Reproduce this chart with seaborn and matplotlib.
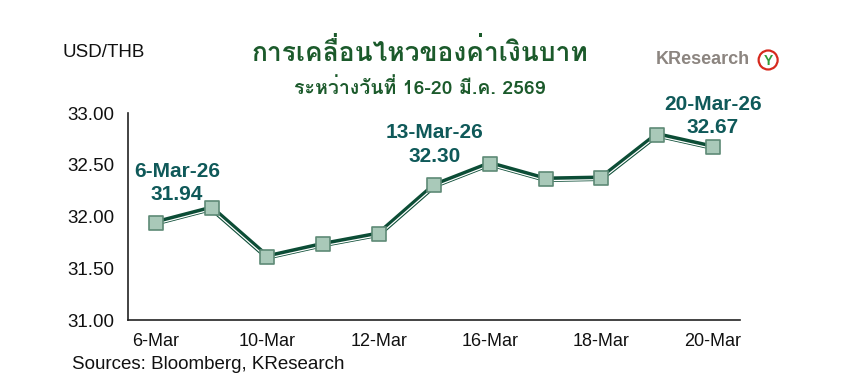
import matplotlib
matplotlib.use("Agg")
import matplotlib.pyplot as plt
import matplotlib.transforms as mtransforms
from matplotlib.patches import Ellipse
from matplotlib import font_manager
import seaborn as sns
import pandas as pd

# ---------------- data ----------------
dates = ["6-Mar", "9-Mar", "10-Mar", "11-Mar", "12-Mar", "13-Mar",
         "16-Mar", "17-Mar", "18-Mar", "19-Mar", "20-Mar"]
usdthb = [31.94, 32.08, 31.61, 31.73, 31.83, 32.30,
          32.51, 32.36, 32.37, 32.79, 32.67]
yticks = [31.00, 31.50, 32.00, 32.50, 33.00]
callout_dates = ["6-Mar", "13-Mar", "20-Mar"]
callout_titles = ["6-Mar-26", "13-Mar-26", "20-Mar-26"]
callout_values = ["31.94", "32.30", "32.67"]
title = "การเคลื่อนไหวของค่าเงินบาท"
subtitle = "ระหว่างวันที่ 16-20 มี.ค. 2569"
source = "Sources: Bloomberg, KResearch"

# ---------------- fonts ----------------
def find_thai_font():
    try:
        from fontTools.ttLib import TTFont
    except Exception:
        return None
    seen = set()
    for f in font_manager.fontManager.ttflist:
        if f.fname in seen:
            continue
        seen.add(f.fname)
        try:
            tt = TTFont(f.fname, fontNumber=0, lazy=True)
            cmap = tt.getBestCmap()
            if cmap and 0x0E01 in cmap and 0x0E32 in cmap:
                return f.name
        except Exception:
            continue
    return None

sns.set_theme(style="white")
thai = find_thai_font()
base = "Liberation Sans"
plt.rcParams['font.family'] = [base] + ([thai] if thai else []) + ["DejaVu Sans"]
title_family = ([thai] if thai else []) + [base, "DejaVu Sans"]

df = pd.DataFrame({"date": dates, "rate": usdthb})
df["pos"] = range(len(df))

fig = plt.figure(figsize=(8.66, 3.87), dpi=100)
ax = fig.add_axes([0.148, 0.173, 0.707, 0.535])

dark = "#0c4d36"
# 3-D style line: thick dark line with a thin white highlight slightly below
sns.lineplot(data=df, x="pos", y="rate", ax=ax, color=dark, linewidth=4.0,
             zorder=2, legend=False)
shift = mtransforms.offset_copy(ax.transData, fig=fig, x=0, y=-1.0, units="points")
sns.lineplot(data=df, x="pos", y="rate", ax=ax, color="white", linewidth=0.9,
             zorder=3, legend=False, transform=shift)
sns.scatterplot(data=df, x="pos", y="rate", ax=ax, marker="s", s=95,
                color="#a9c9b9", edgecolor="#5e8a76", linewidth=1.2, zorder=4,
                legend=False)

ax.set_xlim(-0.5, len(dates) - 0.5)
ax.set_ylim(31.0, 33.0)
ax.set_yticks(yticks)
ax.set_yticklabels([f"{v:.2f}" for v in yticks], fontsize=13.5, color="#111111")
ax.set_xticks([i - 0.5 for i in range(len(dates) + 1)])
ax.set_xticklabels([])
ax.set_xticks(list(range(0, len(dates), 2)), minor=True)
ax.set_xticklabels([dates[i] for i in range(0, len(dates), 2)], minor=True,
                   fontsize=13, color="#111111")
ax.tick_params(axis="x", which="minor", length=0, pad=9)
ax.tick_params(axis="x", which="major", length=5, width=1.0, color="#222222", direction="out")
ax.tick_params(axis="y", length=5, width=1.0, color="#222222", direction="out", pad=5)
ax.set_xlabel("")
ax.set_ylabel("")
for s in ["top", "right"]:
    ax.spines[s].set_visible(False)
for s in ["left", "bottom"]:
    ax.spines[s].set_color("#222222")
    ax.spines[s].set_linewidth(1.2)

label_col = "#0f5959"
# (x offset, value-line offset) in points for each call-out
offsets = [(15, 20), (0, 21), (0, 14)]
for d, l1, l2, (xo, yo) in zip(callout_dates, callout_titles, callout_values, offsets):
    i = dates.index(d)
    v = usdthb[i]
    ax.annotate(l2, (i, v), xytext=(xo, yo), textcoords="offset points",
                ha="center", va="center", fontsize=15, fontweight="bold",
                color=label_col)
    ax.annotate(l1, (i, v), xytext=(xo, yo + 17), textcoords="offset points",
                ha="center", va="center", fontsize=15, fontweight="bold",
                color=label_col)

fig.text(0.485, 0.865, title, ha="center", va="center", fontsize=19,
         fontweight="bold", color="#1b5a2b", family=title_family)
fig.text(0.485, 0.772, subtitle, ha="center", va="center", fontsize=14,
         fontweight="bold", color="#1b5a2b", family=title_family)
fig.text(0.072, 0.865, "USD/THB", ha="left", va="center", fontsize=13.5,
         color="#111111")
fig.text(0.083, 0.057, source, ha="left", va="center", fontsize=13.5,
         color="#111111")
# KResearch logo
fig.text(0.757, 0.845, "KResearch", ha="left", va="center", fontsize=13,
         fontweight="bold", color="#8c8580")
logo = Ellipse((0.887, 0.845), 19 / 866, 19 / 387, transform=fig.transFigure,
               facecolor="white", edgecolor="#d62a1e", linewidth=1.6)
fig.patches.append(logo)
fig.text(0.887, 0.843, "Y", ha="center", va="center", fontsize=10,
         fontweight="bold", color="#2f9b3a")

fig.savefig("out.png", dpi=100)
